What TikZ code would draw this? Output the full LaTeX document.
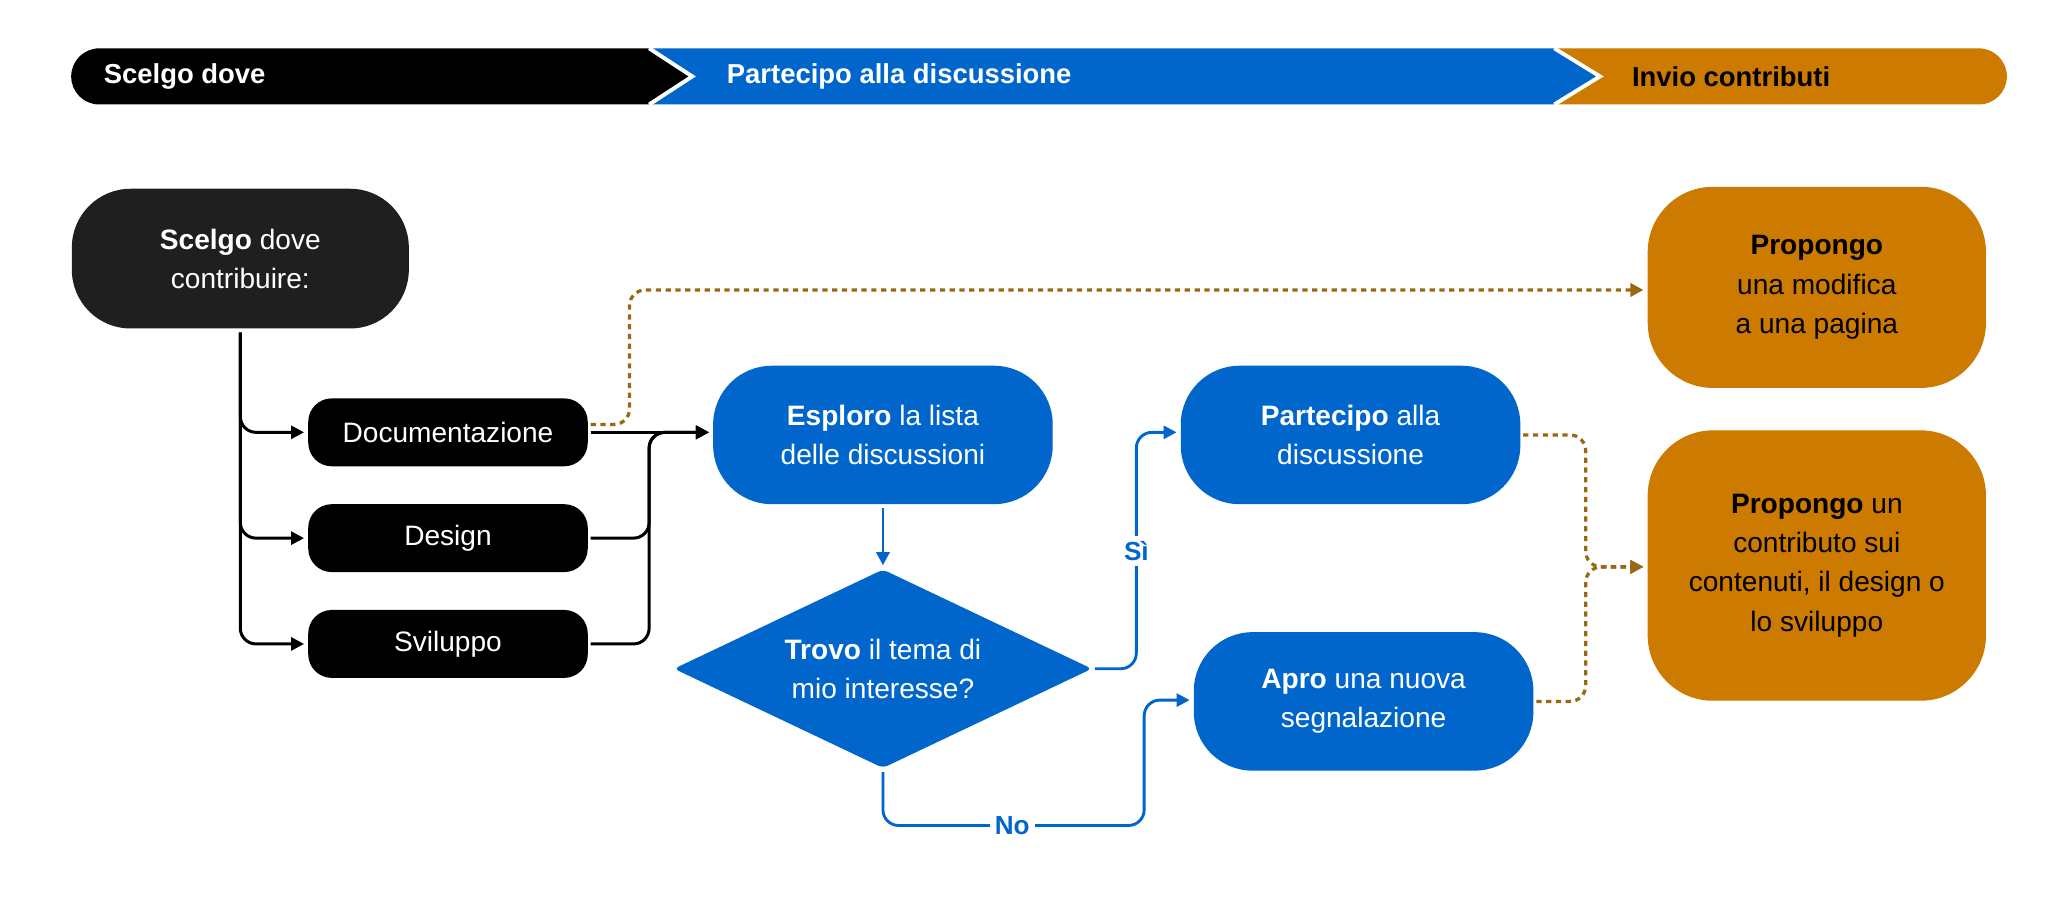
\documentclass[tikz,border=0pt]{standalone}
\usepackage{fontspec}
\setmainfont{Liberation Sans}
\usetikzlibrary{arrows.meta,shapes.geometric}

\definecolor{flowblue}{HTML}{0066CC}
\definecolor{flowgold}{HTML}{CC7A00}
\definecolor{flowdark}{HTML}{1F1F1F}
\definecolor{flowbrown}{HTML}{9A6810}

\begin{document}
\begin{tikzpicture}[x=1pt, y=-1pt,
    font=\fontsize{21.5}{30}\selectfont,
    box/.style={rounded corners=45pt, minimum width=260pt, minimum height=106pt, align=center, inner sep=0pt},
    smallbox/.style={fill=black, text=white, rounded corners=18pt, minimum width=214pt, minimum height=52pt, inner sep=0pt},
    bluebox/.style={box, fill=flowblue, text=white},
    goldbox/.style={box, fill=flowgold, text=black, minimum width=259pt, rounded corners=50pt},
    phase/.style={anchor=west, font=\fontsize{21}{24}\selectfont\bfseries},
    tip/.style={-{Triangle[length=10pt,width=10pt]}},
    blackline/.style={draw=black, line width=2.3pt, rounded corners=12pt, tip, shorten >=3pt},
    blueline/.style={draw=flowblue, line width=2.2pt, rounded corners=12pt, tip, shorten >=3pt},
    dotline/.style={draw=flowbrown, line width=2.5pt, dash pattern=on 4pt off 3.5pt, rounded corners=12pt, tip, shorten >=3pt},
    lbl/.style={fill=white, text=flowblue, font=\fontsize{20}{22}\selectfont\bfseries, inner sep=4pt}]

    \useasboundingbox (0,0) rectangle (1568,689);

    % Top phase bar
    \fill[black] (497,37) -- (530,58.5) -- (497,80) -- (76,80) arc[start angle=270, end angle=90, radius=21.5pt] -- cycle;
    \fill[flowblue] (497,37) -- (1190,37) -- (1225,58.5) -- (1190,80) -- (497,80) -- (530,58.5) -- cycle;
    \fill[flowgold] (1190,37) -- (1515,37) arc[start angle=90, end angle=-90, radius=21.5pt] -- (1190,80) -- (1225,58.5) -- cycle;
    \draw[white, line width=3pt] (497,37) -- (530,58.5) -- (497,80);
    \draw[white, line width=3pt] (1190,37) -- (1225,58.5) -- (1190,80);
    \node[phase, text=white] (phase1) at (76,58.5) {Scelgo dove};
    \node[phase, text=white] (phase2) at (553,58.5) {Partecipo alla discussione};
    \node[phase, text=black] (phase3) at (1246,58.5) {Invio contributi};

    % Boxes
    \node[box, fill=flowdark, text=white, minimum width=258pt, minimum height=107pt] (scelgo) at (184,198) {\textbf{Scelgo} dove\\contribuire:};
    \node[smallbox] (doc) at (343,331) {Documentazione};
    \node[smallbox] (design) at (343,412) {Design};
    \node[smallbox] (svil) at (343,493) {Sviluppo};
    \node[bluebox] (esploro) at (676,333) {\textbf{Esploro} la lista\\delle discussioni};
    \node[diamond, fill=flowblue, text=white, align=center, aspect=2.1, inner sep=0pt, minimum width=320pt, minimum height=152pt, rounded corners=4pt] (trovo) at (676,512) {\textbf{Trovo} il tema di\\mio interesse?};
    \node[bluebox] (part) at (1034,333) {\textbf{Partecipo} alla\\discussione};
    \node[bluebox] (apro) at (1044,537) {\textbf{Apro} una nuova\\segnalazione};
    \node[goldbox, minimum height=154pt] (prop1) at (1391,220) {\textbf{Propongo}\\una modifica\\a una pagina};
    \node[goldbox, minimum height=207pt] (prop2) at (1391,433) {\textbf{Propongo} un\\contributo sui\\contenuti, il design o\\lo sviluppo};

    % Junction points
    \coordinate (jA) at (497,331);
    \coordinate (dA) at (482,222);
    \coordinate (jS) at (870,331);
    \coordinate (jN1) at (876,632);
    \coordinate (jN2) at (876,536);
    \coordinate (dB) at (1214,434);

    % Black connectors
    \draw[blackline] ([yshift=-3pt]scelgo.south) |- (doc.west);
    \draw[blackline] ([yshift=-3pt]scelgo.south) |- (design.west);
    \draw[blackline] ([yshift=-3pt]scelgo.south) |- (svil.west);
    \draw[blackline] ([xshift=2pt]doc.east) -- (jA -| esploro.west);
    \draw[blackline] ([xshift=2pt]design.east) -| (jA) -- (jA -| esploro.west);
    \draw[blackline] ([xshift=2pt]svil.east) -| (jA) -- (jA -| esploro.west);

    % Blue connectors
    \draw[blueline] ([yshift=-3pt]esploro.south) -- (trovo.north);
    \draw[blueline] ([xshift=2pt]trovo.east) -| (jS) -- (jS -| part.west);
    \draw[blueline] ([yshift=-3pt]trovo.south) |- (jN1) -- (jN2) -- (jN2 -| apro.west);
    \node[lbl] (si) at (870,422) {Sì};
    \node[lbl] (no) at (775,632) {No};

    % Dotted connectors
    \draw[dotline] ([xshift=2pt,yshift=6pt]doc.east) -| (dA) -- (dA -| prop1.west);
    \draw[dotline] ([xshift=2pt]part.east) -| (dB) -- (dB -| prop2.west);
    \draw[dotline] ([xshift=2pt]apro.east) -| (dB) -- (dB -| prop2.west);

\end{tikzpicture}
\end{document}
